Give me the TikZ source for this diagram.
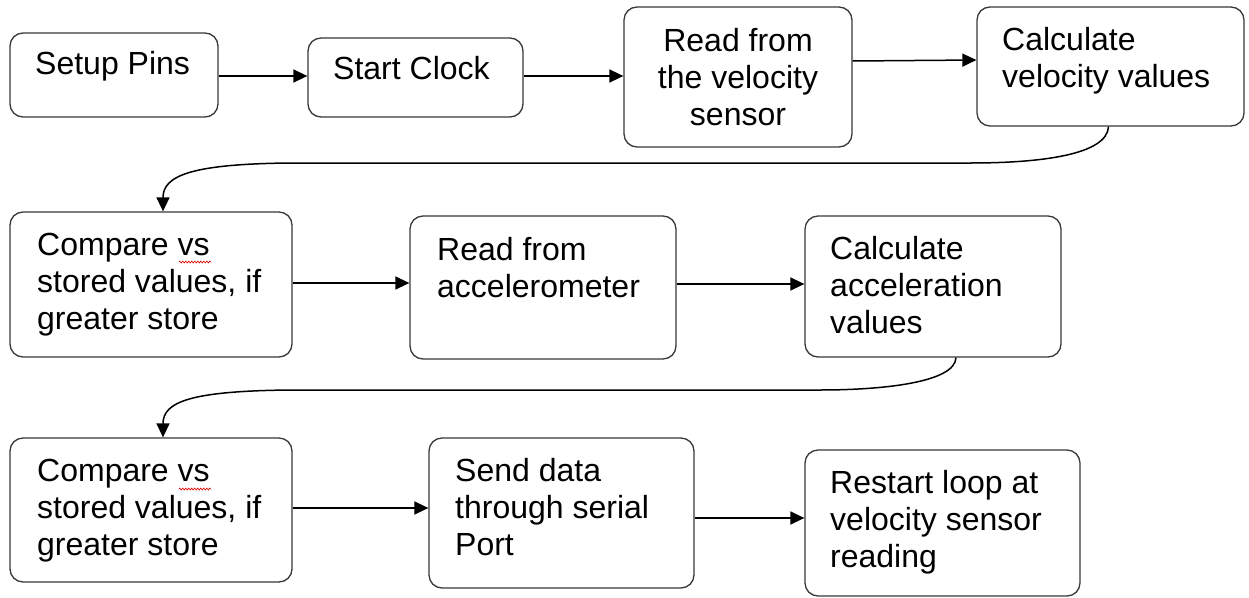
\documentclass[tikz,border=0pt]{standalone}
\usepackage{fontspec}
\setmainfont{Liberation Sans}
\usetikzlibrary{arrows.meta,calc,decorations.pathmorphing}

\begin{document}
\begin{tikzpicture}[x=1pt,y=-1pt,
  stepbox/.style={draw=black!78,line width=1.3pt,rounded corners=13pt,
    inner sep=0pt,fill=white},
  label/.style={inner sep=0pt,align=left,anchor=base west,
    font=\fontsize{32pt}{37pt}\selectfont},
  conn/.style={draw=black,line width=1.5pt,
    -{Triangle[length=14pt,width=13pt]}},
  spell/.style={draw=red!85!black,line width=0.6pt,
    decorate,decoration={zigzag,segment length=3pt,amplitude=1pt}}]

\useasboundingbox (0,0) rectangle (1249,597);

% boxes of the flow
\node[stepbox,minimum width=208pt,minimum height=84pt]  (A) at (114,75)    {};
\node[stepbox,minimum width=215pt,minimum height=79pt]  (B) at (415.5,77.5) {};
\node[stepbox,minimum width=228pt,minimum height=140pt] (C) at (738,77)    {};
\node[stepbox,minimum width=267pt,minimum height=119pt] (D) at (1110.5,66.5) {};
\node[stepbox,minimum width=282pt,minimum height=145pt] (E) at (151,284.5) {};
\node[stepbox,minimum width=266pt,minimum height=143pt] (F) at (543,287.5) {};
\node[stepbox,minimum width=256pt,minimum height=141pt] (G) at (933,286.5) {};
\node[stepbox,minimum width=282pt,minimum height=144pt] (H) at (151,510)   {};
\node[stepbox,minimum width=265pt,minimum height=150pt] (I) at (561.5,513) {};
\node[stepbox,minimum width=275pt,minimum height=146pt] (J) at (942.5,523) {};

% texts inside the boxes (anchored on the baseline of the last line)
\node[label] (tA) at (35,74)   {Setup Pins};
\node[label] (tB) at (333,79)  {Start Clock};
\node[label,align=center,anchor=base] (tC) at (738,125) {Read from\\the velocity\\sensor};
\node[label] (tD) at (1002,87) {Calculate\\velocity values};
\node[label] (tE) at (37,329)  {Compare vs\\stored values, if\\greater store};
\node[label] (tF) at (437,297) {Read from\\accelerometer};
\node[label] (tG) at (830,333) {Calculate\\acceleration\\values};
\node[label] (tH) at (37,555)  {Compare vs\\stored values, if\\greater store};
\node[label] (tI) at (455,555) {Send data\\through serial\\Port};
\node[label] (tJ) at (830,567) {Restart loop at\\velocity sensor\\reading};

% spelling marks under "vs"
\draw[spell] (179,262) -- (211,262);
\draw[spell] (179,489) -- (211,489);

% straight connectors
\draw[conn] (A.east |- 0,76)  -- (B.west |- 0,76);
\draw[conn] (B.east |- 0,76)  -- (C.west |- 0,76);
\draw[conn] (C.east |- 0,61)  -- (D.west |- 0,60);
\draw[conn] (E.east |- 0,283) -- (F.west |- 0,283);
\draw[conn] (F.east |- 0,284) -- (G.west |- 0,284);
\draw[conn] (H.east |- 0,508) -- (I.west |- 0,508);
\draw[conn] (I.east |- 0,518) -- (J.west |- 0,518);

% wrap-around connectors to the next row
\draw[conn] ($(D.south)+(-2,0)$) .. controls (1107,155) and (1040,163) .. (970,163)
  -- (290,163) .. controls (190,164) and (163,176) .. ($(E.north)+(12,0)$);
\draw[conn] ($(G.south)+(23,0)$) .. controls (955,383) and (880,390) .. (820,390)
  -- (290,390) .. controls (190,391) and (163,402) .. ($(H.north)+(12,0)$);
\end{tikzpicture}
\end{document}
